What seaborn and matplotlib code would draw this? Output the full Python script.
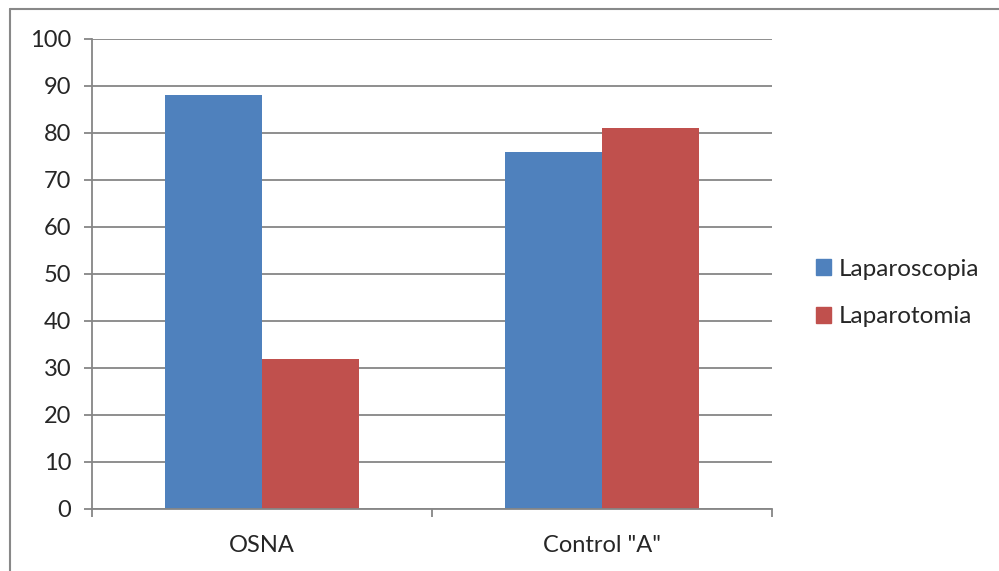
import pandas as pd
import seaborn as sns
import matplotlib.pyplot as plt
from matplotlib.lines import Line2D
from matplotlib.ticker import FixedLocator

# chart data
categories = ['OSNA', 'Control "A"']
series = ['Laparoscopia', 'Laparotomia']
laparoscopia = [88, 76]
laparotomia = [32, 81]
colors = ['#4F81BD', '#C0504D']

df = pd.DataFrame({
    'cat': categories * 2,
    'serie': [series[0]] * 2 + [series[1]] * 2,
    'val': laparoscopia + laparotomia,
})

sns.set_style("white")
plt.rcParams['font.family'] = ['Lato', 'DejaVu Sans']

fig = plt.figure(figsize=(9.99, 5.71), dpi=100)
ax = fig.add_axes([0.0921, 0.1086, 0.6807, 0.8231])

sns.barplot(data=df, x='cat', y='val', hue='serie', order=categories,
            hue_order=series, palette=colors, width=0.57, saturation=1,
            edgecolor='none', ax=ax)

grid_c = '#868686'
fs = 17
ax.set_ylim(0, 100)
ax.set_xlim(-0.5, 1.5)
ax.set_yticks(range(0, 101, 10))
ax.yaxis.grid(True, color=grid_c, linewidth=1.3)
ax.set_axisbelow(True)
ax.set_xlabel('')
ax.set_ylabel('')
for s in ['top', 'right']:
    ax.spines[s].set_visible(False)
for s in ['left', 'bottom']:
    ax.spines[s].set_color(grid_c)
    ax.spines[s].set_linewidth(1.3)

ax.tick_params(axis='y', which='major', length=6, width=1.3, color=grid_c,
               labelsize=fs, pad=9, direction='out', left=True)
ax.tick_params(axis='x', which='major', length=0, labelsize=fs, pad=19)
ax.xaxis.set_minor_locator(FixedLocator([-0.5, 0.5, 1.5]))
ax.tick_params(axis='x', which='minor', length=6, width=1.3, color=grid_c,
               direction='out', bottom=True)

handles = [plt.Rectangle((0, 0), 1, 1, color=c) for c in colors]
ax.legend(handles, series, loc='center left', bbox_to_anchor=(0.795, 0.487),
          bbox_transform=fig.transFigure, frameon=False, fontsize=fs + 0.5,
          handlelength=0.62, handleheight=0.62, handletextpad=0.3,
          labelspacing=1.1)

# outer chart border (top and left visible)
fig.add_artist(Line2D([0.0105, 1.0], [0.984, 0.984], transform=fig.transFigure,
                      color='#888888', linewidth=1.5))
fig.add_artist(Line2D([0.0105, 0.0105], [0.0, 0.984], transform=fig.transFigure,
                      color='#888888', linewidth=1.5))

fig.savefig('out.png', dpi=100)
